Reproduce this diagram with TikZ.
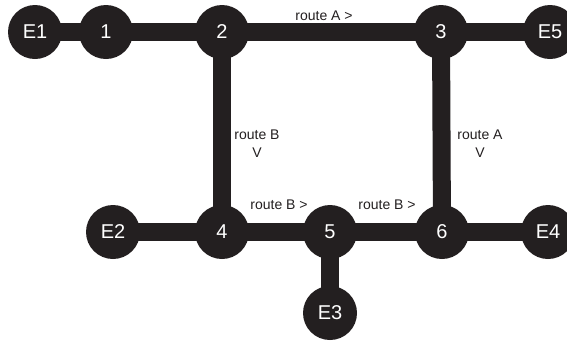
\documentclass[tikz,border=0pt]{standalone}
\usepackage{fontspec}
\setmainfont{Liberation Sans}
\usetikzlibrary{backgrounds}
\definecolor{ink}{HTML}{231F20}
\begin{document}
\begin{tikzpicture}[x=1pt,y=-1pt,
  stop/.style={circle,fill=ink,text=white,minimum size=54pt,inner sep=0pt,font=\fontsize{20}{22}\selectfont},
  track/.style={draw=ink,line width=18pt},
  lbl/.style={text=ink,font=\fontsize{14}{18}\selectfont,inner sep=0pt,align=center}]
\useasboundingbox (0,0) rectangle (567,341);
\node[stop] (E1) at (35,32) {E1};
\node[stop] (n1) at (106,32) {1};
\node[stop] (n2) at (222,32) {2};
\node[stop] (n3) at (441,32) {3};
\node[stop] (E5) at (550,32) {E5};
\node[stop] (E2) at (113,232) {E2};
\node[stop] (n4) at (222,232) {4};
\node[stop] (n5) at (330,232) {5};
\node[stop] (n6) at (442,232) {6};
\node[stop] (E4) at (548,232) {E4};
\node[stop] (E3) at (330,313) {E3};
\begin{scope}[on background layer]
\draw[track] (E1.center) -- (n1.center) -- (n2.center) -- (n3.center) -- (E5.center);
\draw[track] (n2.center) -- (n4.center);
\draw[track] (n3.center) -- (n6.center);
\draw[track] (E2.center) -- (n4.center) -- (n5.center) -- (n6.center) -- (E4.center);
\draw[track] (n5.center) -- (E3.center);
\end{scope}
\node[lbl] (la) at (324,16) {route A >};
\node[lbl] (lb) at (257,144) {route B\\V};
\node[lbl] (lc) at (480,144) {route A\\V};
\node[lbl] (ld) at (279,205) {route B >};
\node[lbl] (le) at (387,205) {route B >};
\end{tikzpicture}
\end{document}
